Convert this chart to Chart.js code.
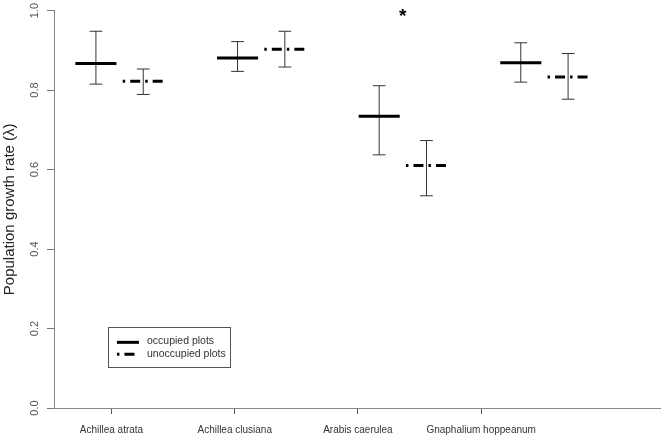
<!DOCTYPE html>
<html>
<head>
<meta charset="utf-8">
<script src="https://cdn.jsdelivr.net/npm/chart.js@4.4.1/dist/chart.umd.min.js"></script>
<style>
  html, body { margin: 0; padding: 0; background: #fff; }
  #wrap { width: 661px; height: 438px; }
</style>
</head>
<body>
<div id="wrap"><canvas id="grafico"></canvas></div>
<script>
const categories = ['Achillea atrata', 'Achillea clusiana', 'Arabis caerulea', 'Gnaphalium hoppeanum'];
const tickPositions = [1.11, 1.98, 2.85, 3.72];
const yTicks = [0, 0.2, 0.4, 0.6, 0.8, 1.0];

const occupiedMean = [0.867, 0.881, 0.734, 0.869];
const occupiedLow = [0.815, 0.847, 0.637, 0.820];
const occupiedHigh = [0.948, 0.922, 0.811, 0.919];

const unoccupiedMean = [0.822, 0.903, 0.610, 0.833];
const unoccupiedLow = [0.789, 0.858, 0.534, 0.777];
const unoccupiedHigh = [0.853, 0.948, 0.673, 0.892];

const significant = [false, false, true, false];

const offset = 0.334;   // unoccupied bar shift
const halfMean = 0.145; // half width of mean line
const halfCap = 0.045;  // half width of caps

function meanSegments(means, shift) {
    const pts = [];
    means.forEach(function(m, i) {
        const x = i + 1 + shift;
        pts.push({x: x - halfMean, y: m}, {x: x + halfMean, y: m}, {x: x, y: null});
    });
    return pts;
}

function errorSegments(lows, highs, shift) {
    const pts = [];
    lows.forEach(function(lo, i) {
        const x = i + 1 + shift;
        const hi = highs[i];
        pts.push({x: x, y: lo}, {x: x, y: hi}, {x: x, y: null});
        pts.push({x: x - halfCap, y: hi}, {x: x + halfCap, y: hi}, {x: x, y: null});
        pts.push({x: x - halfCap, y: lo}, {x: x + halfCap, y: lo}, {x: x, y: null});
    });
    return pts;
}

const dotDash = [2.5, 5, 10, 5];

const extras = {
    id: 'extras',
    afterDatasetsDraw(chart) {
        const ctx = chart.ctx;
        const xs = chart.scales.x, ys = chart.scales.y;
        ctx.save();
        // significance star
        ctx.fillStyle = '#000';
        ctx.font = 'bold 19px "Liberation Sans", Arial, sans-serif';
        ctx.textAlign = 'center';
        ctx.textBaseline = 'middle';
        significant.forEach(function(s, i) {
            if (!s) return;
            ctx.fillText('*', xs.getPixelForValue(i + 1 + offset / 2), ys.getPixelForValue(0.985));
        });
        // legend box
        const lx = xs.getPixelForValue(1.085), ly = ys.getPixelForValue(0.203);
        const w = 122, h = 40;
        ctx.strokeStyle = '#555';
        ctx.lineWidth = 1;
        ctx.strokeRect(Math.round(lx) + 0.5, Math.round(ly) + 0.5, w, h);
        ctx.strokeStyle = '#000';
        ctx.lineWidth = 3;
        ctx.beginPath();
        ctx.moveTo(lx + 9, ly + 15);
        ctx.lineTo(lx + 31, ly + 15);
        ctx.stroke();
        ctx.setLineDash(dotDash);
        ctx.beginPath();
        ctx.moveTo(lx + 9, ly + 27);
        ctx.lineTo(lx + 31, ly + 27);
        ctx.stroke();
        ctx.setLineDash([]);
        ctx.fillStyle = '#333';
        ctx.font = '10.5px "Liberation Sans", Arial, sans-serif';
        ctx.textAlign = 'left';
        ctx.fillText('occupied plots', lx + 39, ly + 14);
        ctx.fillText('unoccupied plots', lx + 39, ly + 27);
        ctx.restore();
    }
};

new Chart(document.getElementById('grafico'), {
    type: 'line',
    data: {
        datasets: [
            {
                label: 'occupied plots',
                data: meanSegments(occupiedMean, 0),
                borderColor: '#000',
                borderWidth: 3,
                pointRadius: 0,
                spanGaps: false
            },
            {
                label: 'unoccupied plots',
                data: meanSegments(unoccupiedMean, offset),
                borderColor: '#000',
                borderWidth: 3,
                borderDash: dotDash,
                pointRadius: 0,
                spanGaps: false
            },
            {
                label: 'occupied error',
                data: errorSegments(occupiedLow, occupiedHigh, 0),
                borderColor: '#333',
                borderWidth: 1,
                pointRadius: 0,
                spanGaps: false
            },
            {
                label: 'unoccupied error',
                data: errorSegments(unoccupiedLow, unoccupiedHigh, offset),
                borderColor: '#333',
                borderWidth: 1,
                pointRadius: 0,
                spanGaps: false
            }
        ]
    },
    options: {
        responsive: true,
        maintainAspectRatio: false,
        animation: false,
        layout: { padding: { top: 10, right: 0, left: 0, bottom: 0 } },
        plugins: {
            legend: { display: false },
            tooltip: { enabled: false }
        },
        scales: {
            x: {
                type: 'linear',
                min: 0.704,
                max: 4.99,
                afterBuildTicks: function(scale) {
                    scale.ticks = tickPositions.map(function(v) { return {value: v}; });
                },
                afterFit: function(scale) { scale.height = 30; },
                ticks: {
                    autoSkip: false,
                    maxRotation: 0,
                    padding: 10,
                    color: '#333',
                    font: { family: '"Liberation Sans", Arial, sans-serif', size: 10 },
                    callback: function(value) {
                        const i = tickPositions.indexOf(value);
                        return i >= 0 ? categories[i] : '';
                    }
                },
                grid: { drawOnChartArea: false, drawTicks: true, tickLength: 6, color: '#555' },
                border: { color: '#888', width: 1 }
            },
            y: {
                min: 0,
                max: 1,
                afterBuildTicks: function(scale) {
                    scale.ticks = yTicks.map(function(v) { return {value: v}; });
                },
                afterFit: function(scale) { scale.width = 54; },
                ticks: {
                    minRotation: 90,
                    maxRotation: 90,
                    crossAlign: 'center',
                    padding: 4,
                    color: '#555',
                    font: { family: '"Liberation Sans", Arial, sans-serif', size: 11 },
                    callback: function(value) { return value.toFixed(1); }
                },
                grid: { drawOnChartArea: false, drawTicks: true, tickLength: 7, color: '#777' },
                border: { color: '#888', width: 1 },
                title: {
                    display: true,
                    text: 'Population growth rate (λ)',
                    color: '#222',
                    font: { family: '"Liberation Sans", Arial, sans-serif', size: 15 },
                    padding: { top: 1, bottom: 0 }
                }
            }
        }
    },
    plugins: [extras]
});
</script>
</body>
</html>
